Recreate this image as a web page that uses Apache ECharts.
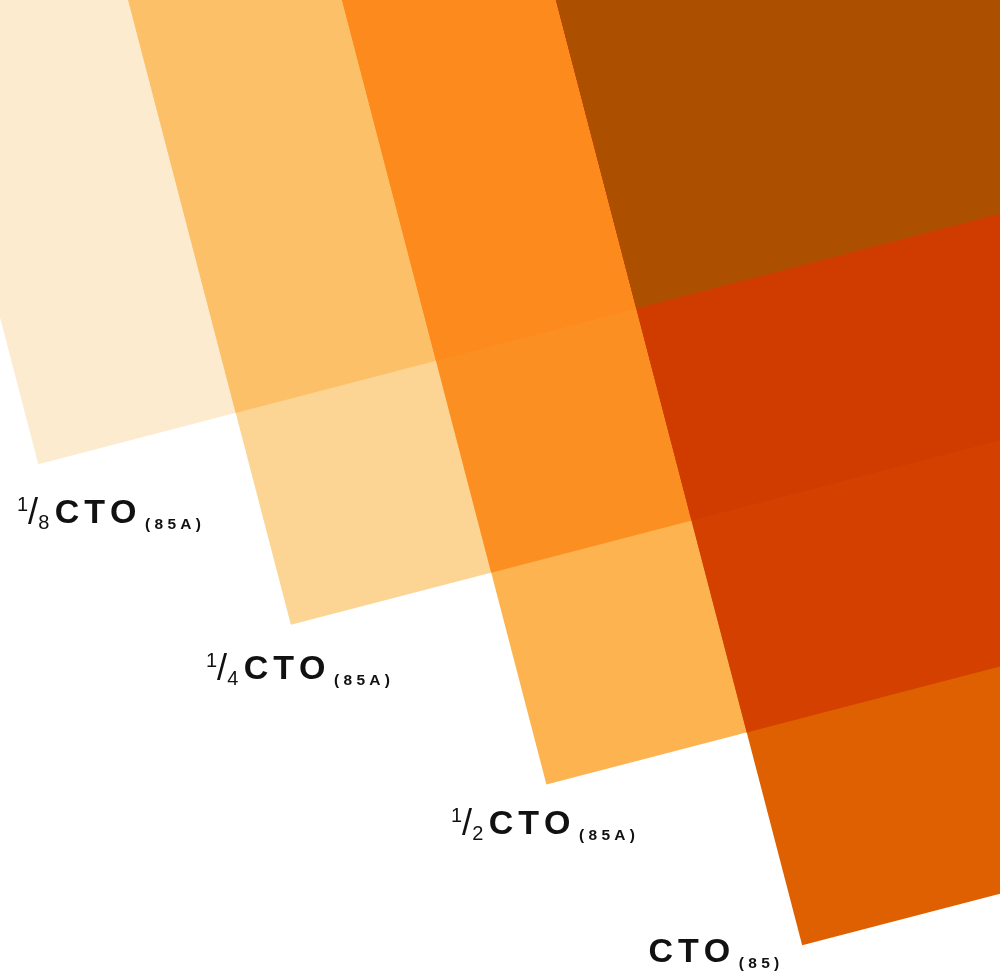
<!DOCTYPE html>
<html><head><meta charset="utf-8">
<script src="https://cdn.jsdelivr.net/npm/echarts@6/dist/echarts.min.js"></script>
<style>html,body{margin:0;padding:0;background:#fff}#c{width:1000px;height:973px}</style>
</head><body><div id="c"></div>
<script>
// ---- data ----
const sheetFractions = ['1/8', '1/4', '1/2', ''];
const sheetCodes = ['85A', '85A', '85A', '85'];
// position of each sheet's left edge (along the sheet's width axis)
const sheetLeftEdge = [-80, 124, 331, 538];
// position of each sheet's bottom edge (along the sheet's length axis)
const sheetBottomEdge = [459, 678, 897, 1117];
const tiltDeg = 14.6;
// overlap cells: [rightmost sheet (column), topmost sheet (row)] drawn back-to-front
const cellColumn = [1, 2, 2, 3, 3, 3, 4, 4, 4, 4];
const cellRow    = [1, 2, 1, 3, 2, 1, 4, 3, 2, 1];
const cellColors = ['#FDEBD0', '#FCD595', '#FCC068', '#FDB450', '#FC8F22', '#FD8A1C', '#DE6000', '#D44000', '#D03C00', '#AC5000'];

// ---- layout (not data) ----
const labelPos = [[17, 495], [206, 651], [451, 806], [646, 936]];
const FONT = '"Liberation Sans", Arial, sans-serif';

const th = tiltDeg * Math.PI / 180, cs = Math.cos(th), sn = Math.sin(th);
const toXY = (u, v) => [u * cs + v * sn, -u * sn + v * cs];
const FAR = 4000;

const chart = echarts.init(document.getElementById('c'), null, {renderer: 'canvas'});

const seriesData = cellColumn.map((c, i) => [c, cellRow[i], i]);

function labelText(i) {
  let s = '';
  if (sheetFractions[i]) {
    const [a, b] = sheetFractions[i].split('/');
    s += '{sup|' + a + '}{sl|/}{sub|' + b + '}';
  } else {
    s += '{pre|}';
  }
  s += '{c|C}{c|T}{c|O}';
  s += '{p|( ' + sheetCodes[i].split('').join(' ') + ' )}';
  return s;
}

const rich = {
  sup: {fontFamily: FONT, fontSize: 20, lineHeight: 16, verticalAlign: 'top', color: '#111'},
  sl: {fontFamily: FONT, fontSize: 36, lineHeight: 36, color: '#111'},
  sub: {fontFamily: FONT, fontSize: 20, lineHeight: 24, verticalAlign: 'bottom', color: '#111', padding: [0, 3, 0, 0]},
  pre: {fontFamily: FONT, fontSize: 34, lineHeight: 38},
  c: {fontFamily: FONT, fontSize: 34, fontWeight: 'bold', lineHeight: 38, color: '#111', padding: [0, 2.5, 0, 2.5]},
  p: {fontFamily: FONT, fontSize: 15.5, fontWeight: 'bold', lineHeight: 22, verticalAlign: 'bottom', color: '#111', padding: [0, 0, 0, 6]}
};

chart.setOption({
  animation: false,
  backgroundColor: '#ffffff',
  grid: {left: 0, right: 0, top: 0, bottom: 0},
  xAxis: {type: 'value', min: 0, max: 1000, show: false},
  yAxis: {type: 'value', min: 0, max: 973, inverse: true, show: false},
  series: [{
    type: 'custom',
    clip: true,
    data: seriesData,
    encode: {x: 0, y: 1},
    renderItem: function (params, api) {
      const c = api.value(0), r = api.value(1), k = api.value(2);
      const u0 = sheetLeftEdge[c - 1], u1 = FAR;
      const v0 = -FAR, v1 = sheetBottomEdge[r - 1];
      const pts = [[u0, v0], [u1, v0], [u1, v1], [u0, v1]].map(p => api.coord(toXY(p[0], p[1])));
      return {type: 'polygon', shape: {points: pts}, style: {fill: cellColors[k], stroke: null}};
    }
  }],
  graphic: labelPos.map((p, i) => ({
    type: 'text', left: p[0], top: p[1], z: 100,
    style: {text: labelText(i), rich: rich, fill: '#111'}
  }))
});
</script></body></html>
